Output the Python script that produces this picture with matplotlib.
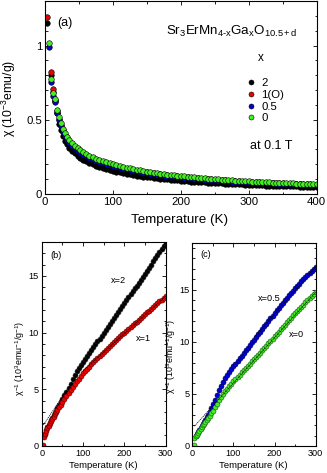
import matplotlib
matplotlib.use('Agg')
import matplotlib.pyplot as plt
from matplotlib.ticker import MultipleLocator
import numpy as np

nan = np.nan

# panel (a): chi vs T
tempA = [3.5, 5.5, 9, 12.5, 14, 17, 20.5, 23.5, 27, 30,
         33, 36, 40, 44, 48, 52, 56, 60, 65, 70,
         75, 80, 85, 90, 95, 100, 105, 110, 115, 120,
         125, 130, 135, 140, 145, 150, 155, 160, 165, 170,
         175, 180, 185, 190, 195, 200, 205, 210, 215, 220,
         225, 230, 235, 240, 245, 250, 255, 260, 265, 270,
         275, 280, 285, 290, 295, 300, 305, 310, 315, 320,
         325, 330, 335, 340, 345, 350, 355, 360, 365, 370,
         375, 380, 385, 390, 395, 400]

chiA_2 = [1.155, nan, 0.800, 0.690, 0.625, 0.545, 0.470, 0.430, 0.390, 0.360,
          0.335, 0.313, 0.292, 0.274, 0.258, 0.244, 0.232, 0.221, 0.210, 0.200,
          0.191, 0.183, 0.175, 0.168, 0.162, 0.156, 0.150, 0.145, 0.140, 0.136,
          0.132, 0.128, 0.124, 0.121, 0.117, 0.114, 0.111, 0.108, 0.106, 0.103,
          0.101, 0.098, 0.096, 0.094, 0.092, 0.090, 0.088, 0.086, 0.084, 0.083,
          0.081, 0.079, 0.078, 0.076, 0.075, 0.074, 0.072, 0.071, 0.070, 0.069,
          0.067, 0.066, 0.065, 0.064, 0.063, 0.062, 0.061, 0.060, 0.059, 0.058,
          0.057, 0.056, 0.056, 0.055, 0.054, 0.053, 0.053, 0.052, 0.051, 0.051,
          0.050, 0.049, 0.049, 0.048, 0.048, 0.047]

chiA_1 = [1.194, nan, 0.825, 0.706, 0.630, 0.556, 0.505, 0.466, 0.430, 0.400,
          0.375, 0.357, 0.336, 0.318, 0.301, 0.286, 0.273, 0.263, 0.251, 0.241,
          0.231, 0.223, 0.215, 0.207, 0.200, 0.194, 0.188, 0.182, 0.176, 0.171,
          0.166, 0.162, 0.158, 0.154, 0.150, 0.146, 0.142, 0.139, 0.135, 0.132,
          0.129, 0.126, 0.124, 0.121, 0.119, 0.116, 0.114, 0.112, 0.110, 0.108,
          0.106, 0.104, 0.102, 0.100, 0.098, 0.096, 0.095, 0.093, 0.091, 0.090,
          0.088, 0.087, 0.086, 0.084, 0.083, 0.082, 0.081, 0.080, 0.078, 0.077,
          0.076, 0.075, 0.074, 0.073, 0.072, 0.071, 0.070, 0.069, 0.068, 0.067,
          0.066, 0.066, 0.065, 0.064, 0.063, 0.063]

chiA_05 = [nan, 0.987, 0.757, 0.660, 0.620, 0.545, 0.495, 0.455, 0.418, 0.390,
           0.366, 0.346, 0.326, 0.309, 0.292, 0.278, 0.265, 0.255, 0.244, 0.234,
           0.224, 0.216, 0.208, 0.200, 0.193, 0.188, 0.182, 0.176, 0.170, 0.165,
           0.160, 0.156, 0.152, 0.148, 0.144, 0.140, 0.137, 0.133, 0.130, 0.127,
           0.124, 0.121, 0.119, 0.116, 0.114, 0.111, 0.109, 0.107, 0.105, 0.103,
           0.101, 0.099, 0.097, 0.095, 0.094, 0.092, 0.090, 0.089, 0.087, 0.086,
           0.084, 0.083, 0.082, 0.080, 0.079, 0.078, 0.077, 0.076, 0.075, 0.074,
           0.073, 0.072, 0.071, 0.070, 0.069, 0.068, 0.067, 0.066, 0.066, 0.065,
           0.064, 0.063, 0.063, 0.062, 0.061, 0.061]

chiA_0 = [nan, 1.016, 0.776, 0.679, 0.638, 0.566, 0.517, 0.477, 0.440, 0.410,
          0.385, 0.364, 0.343, 0.325, 0.308, 0.293, 0.280, 0.270, 0.258, 0.248,
          0.238, 0.229, 0.221, 0.213, 0.206, 0.200, 0.194, 0.188, 0.182, 0.177,
          0.172, 0.167, 0.163, 0.159, 0.155, 0.151, 0.147, 0.144, 0.140, 0.137,
          0.134, 0.131, 0.128, 0.126, 0.123, 0.121, 0.118, 0.116, 0.114, 0.112,
          0.110, 0.108, 0.106, 0.104, 0.102, 0.100, 0.098, 0.097, 0.095, 0.093,
          0.092, 0.090, 0.089, 0.088, 0.086, 0.085, 0.084, 0.083, 0.081, 0.080,
          0.079, 0.078, 0.077, 0.076, 0.075, 0.074, 0.073, 0.072, 0.071, 0.070,
          0.069, 0.069, 0.068, 0.067, 0.066, 0.066]

# panels (b), (c): 1/chi vs T
tempB = [3, 5, 8, 11, 14, 17, 20, 23, 26, 29,
         32, 35, 38, 42, 46, 50, 55, 60, 65, 70,
         75, 80, 85, 90, 95, 100, 105, 110, 115, 120,
         125, 130, 135, 140, 145, 150, 155, 160, 165, 170,
         175, 180, 185, 190, 195, 200, 205, 210, 215, 220,
         225, 230, 235, 240, 245, 250, 255, 260, 265, 270,
         275, 280, 285, 290, 295, 300]

invB_2 = [nan, nan, 1.10, 1.40, 1.65, 1.85, 2.05, 2.30, 2.50, 2.72,
          2.92, 3.12, 3.32, 3.58, 3.86, 4.15, 4.48, 4.80, 5.15, 5.50,
          5.95, 6.30, 6.58, 6.85, 7.13, 7.40, 7.66, 7.92, 8.18, 8.44,
          8.70, 8.96, 9.22, 9.48, 9.74, 10.00, 10.26, 10.52, 10.78, 11.04,
          11.30, 11.56, 11.82, 12.08, 12.34, 12.60, 12.86, 13.12, 13.38, 13.64,
          13.90, 14.16, 14.42, 14.68, 14.94, 15.20, 15.47, 15.74, 16.01, 16.28,
          16.55, 16.82, 17.09, 17.36, 17.63, 17.90]

invB_1 = [0.05, 0.82, 1.05, 1.30, 1.55, 1.78, 2.00, 2.20, 2.40, 2.60,
          2.80, 3.00, 3.17, 3.40, 3.65, 3.90, 4.18, 4.45, 4.70, 4.95,
          5.20, 5.45, 5.70, 5.95, 6.18, 6.40, 6.60, 6.80, 7.00, 7.20,
          7.39, 7.58, 7.76, 7.95, 8.13, 8.30, 8.48, 8.65, 8.83, 9.00,
          9.18, 9.35, 9.51, 9.68, 9.84, 10.00, 10.16, 10.33, 10.49, 10.65,
          10.81, 10.98, 11.14, 11.30, 11.46, 11.63, 11.79, 11.95, 12.11, 12.28,
          12.44, 12.60, 12.75, 12.90, 13.05, 13.20]

invC_05 = [nan, nan, 0.95, 1.12, 1.32, 1.50, 1.70, 1.90, 2.10, 2.30,
           2.50, 2.75, 2.98, 3.30, 3.65, 4.02, 4.45, 4.90, 5.35, 5.78,
           6.15, 6.48, 6.80, 7.10, 7.40, 7.65, 7.91, 8.16, 8.42, 8.67,
           8.93, 9.18, 9.44, 9.69, 9.95, 10.20, 10.46, 10.71, 10.97, 11.22,
           11.48, 11.73, 11.99, 12.24, 12.50, 12.75, 13.00, 13.25, 13.50, 13.74,
           13.98, 14.21, 14.44, 14.67, 14.90, 15.12, 15.34, 15.56, 15.78, 15.98,
           16.18, 16.38, 16.58, 16.78, 16.98, 17.18]

invC_0 = [0.06, 0.80, 0.95, 1.10, 1.28, 1.45, 1.62, 1.80, 1.97, 2.14,
          2.30, 2.48, 2.65, 2.88, 3.12, 3.37, 3.70, 4.03, 4.37, 4.70,
          4.98, 5.25, 5.50, 5.75, 5.98, 6.20, 6.42, 6.63, 6.84, 7.05,
          7.26, 7.47, 7.68, 7.90, 8.11, 8.32, 8.53, 8.75, 8.96, 9.18,
          9.40, 9.62, 9.85, 10.07, 10.30, 10.52, 10.75, 10.97, 11.20, 11.42,
          11.64, 11.86, 12.08, 12.30, 12.52, 12.74, 12.95, 13.16, 13.37, 13.57,
          13.77, 13.97, 14.17, 14.36, 14.55, 14.74]

# Curie-Weiss fit lines (end points)
fitB_2_t = [4, 300]
fitB_2_v = [1.85, 18.0]
fitB_1_t = [100, 300]
fitB_1_v = [6.65, 13.2]
fitC_05_t = [150, 300]
fitC_05_v = [10.4, 17.2]
fitC_0_t = [5, 300]
fitC_0_v = [1.9, 14.75]

labelsA = ['2', '1(O)', '0.5', '0']
colorK = 'black'
colorR = '#ee0000'
colorB = '#0000dd'
colorG = '#44ee22'

plt.rcParams['font.family'] = ['Liberation Sans', 'DejaVu Sans']
plt.rcParams['mathtext.fontset'] = 'custom'
plt.rcParams['mathtext.rm'] = 'Liberation Sans'
plt.rcParams['mathtext.it'] = 'Liberation Sans'
plt.rcParams['axes.linewidth'] = 0.8


def setTicks(ax, xmaj, xmin, ymaj, ymin, size):
    ax.xaxis.set_major_locator(MultipleLocator(xmaj))
    ax.xaxis.set_minor_locator(MultipleLocator(xmin))
    ax.yaxis.set_major_locator(MultipleLocator(ymaj))
    ax.yaxis.set_minor_locator(MultipleLocator(ymin))
    ax.tick_params(which='both', direction='in', top=True, right=True, labelsize=size, width=0.6, pad=2)
    ax.tick_params(which='major', length=3.2)
    ax.tick_params(which='minor', length=1.8)


fig = plt.figure(figsize=(3.27, 4.73), dpi=100)

# ---- (a)
axA = fig.add_axes([0.1376, 0.5899, 0.8309, 0.408])
msA = 4.0
series = [(chiA_2, colorK), (chiA_1, colorR), (chiA_05, colorB), (chiA_0, colorG)]
handles = []
for i, (vals, col) in enumerate(series):
    h, = axA.plot(tempA, vals, 'o', ms=msA, mfc=col, mec='black', mew=0.4, ls='none', label=labelsA[i])
    handles.append(h)
axA.set_xlim(0, 400)
axA.set_ylim(0, 1.3)
setTicks(axA, 100, 50, 0.5, 0.1, 8.2)
axA.set_yticks([0, 0.5, 1])
axA.yaxis.set_major_formatter(matplotlib.ticker.FuncFormatter(lambda v, p: '%g' % v))
axA.set_xlabel('Temperature (K)', fontsize=9.6)
axA.xaxis.set_label_coords(0.497, -0.105)
axA.set_ylabel(r'$\chi$ (10$^{-3}$emu/g)', fontsize=8.8)
axA.yaxis.set_label_coords(-0.098, 0.497)
axA.text(17.7, 1.155, '(a)', fontsize=9, va='center')
axA.text(371, 1.092, r'Sr$_3$ErMn$_{4\text{-}x}$Ga$_x$O$_{10.5+d}$', fontsize=9.6, ha='right', va='center')
axA.text(302, 0.324, 'at 0.1 T', fontsize=9, va='center')
axA.text(313, 0.917, 'x', fontsize=8.4, va='center')
leg = axA.legend(handles=handles, frameon=False, fontsize=8.2,
                 loc='upper left', bbox_to_anchor=(0.72, 0.63), borderpad=0,
                 handlelength=0.8, handletextpad=0.5, labelspacing=0.15, markerscale=0.9)

# ---- (b)
axB = fig.add_axes([0.1275, 0.0571, 0.3792, 0.4313])
msB = 3.6
axB.plot(tempB, invB_2, 'o', ms=msB, mfc=colorK, mec='#222222', mew=0.4, ls='none')
axB.plot(tempB, invB_1, 'o', ms=msB, mfc=colorR, mec='#550000', mew=0.4, ls='none')
axB.plot(fitB_2_t, fitB_2_v, color='black', lw=0.5, ls=(0, (2, 1)))
axB.plot(fitB_1_t, fitB_1_v, color='black', lw=0.5, ls=(0, (2, 1)))
axB.set_xlim(0, 300)
axB.set_ylim(0, 18)
setTicks(axB, 100, 50, 5, 1, 6.6)
axB.set_xlabel('Temperature (K)', fontsize=6.8)
axB.xaxis.set_label_coords(0.497, -0.075)
axB.set_ylabel(r'$\chi^{-1}$ (10$^3$emu$^{-1}$/g$^{-1}$)', fontsize=6.4)
axB.yaxis.set_label_coords(-0.122, 0.43)
axB.text(20, 16.8, '(b)', fontsize=6.6, va='center')
axB.text(167, 14.6, 'x=2', fontsize=6.6, va='center')
axB.text(229, 9.5, 'x=1', fontsize=6.6, va='center')

# ---- (c)
axC = fig.add_axes([0.5881, 0.0571, 0.3773, 0.4298])
axC.plot(tempB, invC_05, 'o', ms=msB, mfc=colorB, mec='#000044', mew=0.4, ls='none')
axC.plot(tempB, invC_0, 'o', ms=msB, mfc=colorG, mec='#115511', mew=0.4, ls='none')
axC.plot(fitC_05_t, fitC_05_v, color='black', lw=0.5, ls=(0, (2, 1)))
axC.plot(fitC_0_t, fitC_0_v, color='black', lw=0.5, ls=(0, (2, 1)))
axC.set_xlim(0, 300)
axC.set_ylim(0, 19.5)
setTicks(axC, 100, 50, 5, 1, 6.6)
axC.set_xlabel('Temperature (K)', fontsize=6.8)
axC.xaxis.set_label_coords(0.497, -0.072)
axC.set_ylabel(r'$\chi^{-1}$ (10$^3$emu$^{-1}$/g$^{-1}$)', fontsize=6.4)
axC.yaxis.set_label_coords(-0.115, 0.443)
axC.text(19, 18.4, '(c)', fontsize=6.6, va='center')
axC.text(158.6, 14.1, 'x=0.5', fontsize=6.6, va='center')
axC.text(236, 10.7, 'x=0', fontsize=6.6, va='center')

fig.savefig('out.png', dpi=100)
